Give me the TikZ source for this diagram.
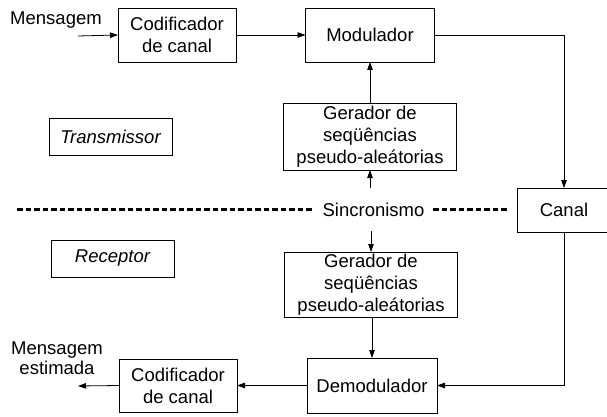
\documentclass[tikz,border=0pt]{standalone}
\usepackage{fontspec}
\setmainfont{Liberation Sans}
\usetikzlibrary{arrows.meta}

\begin{document}
\begin{tikzpicture}[x=1pt,y=-1pt,
  every node/.style={font=\fontsize{18.5}{22}\selectfont, outer sep=0pt, align=center},
  blk/.style={draw, line width=0.8pt, inner sep=0pt},
  lig/.style={line width=0.8pt, -{Triangle[length=8pt,width=5.5pt]}},
  sync/.style={line width=2.2pt, dash pattern=on 5.5pt off 3pt}]
\useasboundingbox (0,0) rectangle (607,417);

\node (msg) at (56,20) {Mensagem};
\node[blk, minimum width=118, minimum height=54] (cod1) at (177,35) {Codificador\\de canal};
\node[blk, minimum width=129, minimum height=54] (mod) at (370,35) {Modulador};
\node[blk, minimum width=123, minimum height=37] (trans) at (110.5,136.5) {\itshape Transmissor};
\node[blk, minimum width=173, minimum height=67] (ger1) at (370,136.5) {Gerador de\\seqüências\\pseudo-aleátorias};

\node[inner sep=0pt, minimum height=43] (sinc) at (373.5,209.5) {Sincronismo};
\node[blk, minimum width=94, minimum height=44] (canal) at (564,210) {Canal};

\node[blk, minimum width=123, minimum height=37] (rec) at (112.5,258.5) {\itshape Receptor};
\node[blk, minimum width=173, minimum height=65] (ger2) at (371,284.5) {Gerador de\\seqüências\\pseudo-aleátorias};
\node[blk, minimum width=130, minimum height=55] (demod) at (372,385.5) {Demodulador};
\node[blk, minimum width=118, minimum height=53] (cod2) at (178,385.5) {Codificador\\de canal};
\node[font=\fontsize{18.5}{20}\selectfont] (msgest) at (57,358) {Mensagem\\estimada};

\coordinate (in) at (78,36);
\coordinate (out) at (78,386);
\coordinate (dl) at (17,209.5);
\coordinate (dr) at (507,209.5);

\draw[sync] (dl) -- ([xshift=-11pt]sinc.west);
\draw[sync] ([xshift=9pt]sinc.east) -- (dr);

\draw[lig] (in) -- (cod1.west);
\draw[lig] (cod1.east) -- (mod.west);
\draw[lig] (mod.east) -| (canal.north);
\draw[lig] (ger1.north) -- (mod.south);
\draw[lig] (ger1.south |- sinc.north) -- (ger1.south);
\draw[lig] (ger2.north |- sinc.south) -- (ger2.north);
\draw[lig] (ger2.south -| demod.north) -- (demod.north);
\draw[lig] (canal.south) |- (demod.east);
\draw[lig] (demod.west) -- (cod2.east);
\draw[lig] (cod2.west) -- (out);
\end{tikzpicture}
\end{document}
